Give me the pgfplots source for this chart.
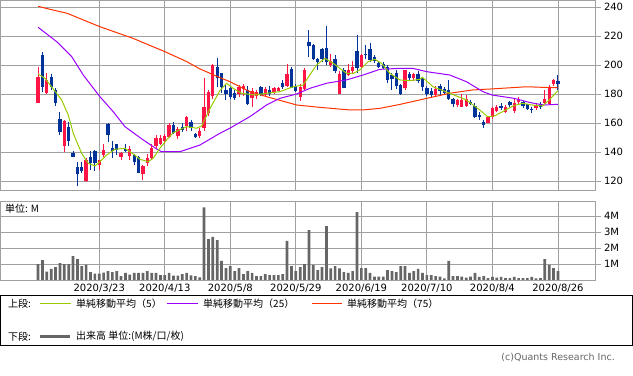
\documentclass[border=0pt]{standalone}
\usepackage{fontspec}
\setmainfont{DejaVu Sans}
\newfontfamily\jp{Noto Sans CJK JP}
\usepackage{pgfplots}
\usepackage{pgfplotstable}
\pgfplotsset{compat=1.18}
\definecolor{cred}{RGB}{255,20,70}
\definecolor{cblue}{RGB}{0,51,153}
\definecolor{maA}{RGB}{153,204,0}
\definecolor{maB}{RGB}{153,0,255}
\definecolor{maC}{RGB}{255,51,0}
\definecolor{gridc}{RGB}{160,160,160}
\definecolor{volc}{RGB}{102,102,102}

% up candles (close > open)
\pgfplotstableread{
i O H L C
0 174 199 174 192
2 181 194.5 180 190
6 144 162 140.5 161.6
11 120 136 119.7 134.7
14 131.2 135 128 134.7
15 138 145.5 137 141.6
19 136.6 140 134.7 139.3
21 137.3 144 135 142
24 124.7 131.5 121 130.6
25 132.5 139 130.5 136
26 136 146 135 143
27 144.5 152 142 150
28 146 152 145 150
29 148 152.5 146 151
30 150.5 160 150 158.8
32 151.5 157.7 149 156
34 158 165 155 164
37 151.2 157 150 155
38 156.6 191 155 171
39 167 183 165 181.5
40 178.5 201 177 200
46 180 186.5 178 185.2
47 183.5 187 178.5 186
49 177.2 184 171.5 182.3
50 179 183 177 181.5
52 179.5 185 178.5 183.5
54 181.8 185 180 184.1
55 182.5 185 182 184.2
57 186 200.7 185 194
60 178.3 187 175.5 185
61 183.5 198 183 197
67 200.2 208 199 203
69 180 196 180 194.2
71 193.5 201 192.5 196.5
72 196.3 203 195 198.8
74 199 208 198 207
84 184 197 183 196.5
86 191.5 194.5 189 194
91 179.5 186 178 183.5
96 172.5 177 171.5 176
97 171.5 180 171 176
98 172 179.5 171.5 176.8
103 160.5 164.5 160 164
104 164 171.5 163 170.5
105 168.3 172.5 167.5 171
107 168 172.5 167 171.3
109 168.5 177 167 174
110 174.5 178 173.5 177
114 170.3 173.5 169.5 172.5
116 173.8 183 173 176.5
117 173.5 186.5 173 185
118 187 190.5 186 189.8
}\upT

% down candles (close < open)
\pgfplotstableread{
i O H L C
1 207 209.4 181.8 185.2
3 192 194 183 185
4 183 184 172 174
5 163 168 152 154
7 157.5 161 144 148
8 139.3 141 136.5 137
9 130 133.5 117 125
10 130 133 126 127
12 137 141 128 132.5
13 141 141.5 127 132.5
16 159.5 160 147.3 152
17 142.8 147.8 136 141.1
18 145.7 146 138 141.3
20 142 146 140.5 141
22 138 139 131 133.5
23 137 137.5 125.5 126
31 158.8 161 152.5 153.5
33 157.5 160 154 155.5
35 161 162 155 157
36 152.4 153 150 150.3
41 199 205 185 191.2
42 194.7 195 181 185
43 183 186.4 176 180
44 184 186 176.5 178.3
45 181 183 176 177.7
48 183.2 186 172.5 173.2
51 185 186 179 179.5
53 183 185.7 179 180
56 187.5 190 183.5 185
58 197.6 198.5 184 184.6
59 185.5 187 181.5 182.4
62 216.3 224.5 206 213.4
63 214.3 215 203.5 204.5
64 204.5 205.2 197 202
65 211 212 202 204.5
66 211.7 227 200 202
68 204.5 207 194.5 196
70 196.5 198 184 184.5
73 210 221 195 198
75 208 214 204 207
76 211.5 215.5 202.5 203.8
77 205.5 207 201.5 203
78 201.4 203 198 198.5
79 201 202.5 197.5 198.3
80 199 200 188 189.6
81 193.5 194.5 183 190.5
82 194.5 197 183.5 186
83 186.5 187 179.5 180
85 194 195.5 189.5 191
87 194.2 196 188 189
88 191.2 192 182.5 185
89 184 185.5 179 180
90 182.5 184 178 179.5
92 186 187 179 182.5
93 183.5 185 180 181
94 183 190 176 176.7
95 176.8 177.5 171.5 173
99 175 176 172.5 173.5
100 172.2 174 163.5 164.3
101 165.5 167.5 162.5 164
102 161 162.3 156.5 159
106 172.2 174 169 170.8
108 174.5 175.5 171 172.3
111 174.5 175.5 170.5 172.2
112 173 173.5 169 170
113 170 171 167 169.5
115 173 175 170 171
119 189.3 193.3 183 187
}\downT

\pgfplotstableread{
x y
0 194
1.58 191
3.18 184.8
5.4 176.1
6.91 165.7
8.05 153.1
9.97 139.3
11.48 132.4
13.02 130.6
14.16 133.5
15.69 138.1
17.59 142.1
19.88 142.8
21.78 138.8
23.31 135.2
25.21 133.5
26.36 135.9
27.89 142.8
29.42 148.5
30.93 153.5
34 157.7
36.28 156.6
37.43 158.1
39.33 170
41.61 182.5
43.15 187.6
44.66 184.1
46.58 180.7
49.62 179.5
52.3 180.7
55.34 181.8
58.38 185.2
60.67 186.4
62.2 193.3
63.74 200.2
65.64 204.8
67.54 201.4
69.07 197.9
70.6 194.5
72.11 194.3
73.64 196.8
75.54 202.5
77.08 204.1
78.61 201.4
80.51 194.5
82.79 189.9
85.08 189.4
87.37 190.3
87.98 191.7
90.41 185.2
94.23 180.7
98.05 176.1
101.1 169.2
102.87 164.6
104.41 165
106.31 168
108.7 171.9
110.88 173.8
113.17 172.6
115.47 171.9
117.0 176.1
119 182.5
}\maFive

\pgfplotstableread{
x y
0 226.2
4.26 216.3
7.69 206
10.34 193.3
14.16 178.3
17.2 168
19.88 157.7
24.07 148.5
27.13 142.3
28.28 140.4
32.46 140.4
37.04 145
41.61 153.1
43.9 156.6
48.48 164.6
52.3 172.6
55.34 177.2
59.16 180.2
62.2 184.1
66.03 187.6
70.6 189.9
74.4 193.3
78.22 197.2
82.79 197.9
85.77 197.9
88.97 195.6
94.23 193.3
98.05 188.7
101.85 181.8
103.91 179.5
108.96 177.2
112.78 174.2
115.82 172.6
119 173.1
}\maTwentyFive

\pgfplotstableread{
x y
0 240.7
2.72 238.6
6.61 235.9
14.16 226.6
21.71 218.6
29.03 209.4
34.06 202.5
37.04 197.5
41.61 191.5
43.9 188.7
48.48 181.8
52.37 178.3
59.23 172.6
64.49 171.0
71.35 169.2
74.33 169.2
78.22 170.3
82.79 173
88.97 177.2
94.23 180.7
99.49 183
103.84 183.7
111.85 185.2
115.51 184.8
118.94 184.6
}\maSeventyFive

\pgfplotstableread{
i v
0 1.0
1 1.25
2 0.52
3 0.69
4 0.81
5 1.06
6 1.0
7 1.0
8 1.5
9 1.31
10 0.875
11 0.96
12 0.5
13 0.4
14 0.4
15 0.46
16 0.56
17 0.5
18 0.56
19 0.25
20 0.44
21 0.33
22 0.44
23 0.44
24 0.44
25 0.56
26 0.44
27 0.44
28 0.31
29 0.31
30 0.44
31 0.27
32 0.27
33 0.37
34 0.44
35 0.29
36 0.25
37 0.17
38 4.54
39 2.56
40 2.69
41 2.5
42 1.19
43 0.75
44 0.875
45 0.56
46 0.75
47 0.37
48 0.56
49 0.44
50 0.25
51 0.25
52 0.37
53 0.31
54 0.31
55 0.31
56 0.37
57 2.44
58 0.875
59 0.56
60 0.81
61 1.0
62 3.125
63 0.94
64 0.62
65 0.81
66 3.375
67 0.73
68 0.875
69 0.73
70 0.5
71 0.44
72 0.56
73 4.25
74 0.75
75 0.75
76 0.44
77 0.21
78 0.21
79 0.21
80 0.62
81 0.56
82 0.5
83 0.875
84 0.875
85 0.44
86 0.56
87 0.69
88 0.44
89 0.31
90 0.31
91 0.25
92 0.21
93 0.1
94 1.19
95 0.25
96 0.25
97 0.21
98 0.15
99 0.21
100 0.44
101 0.19
102 0.25
103 0.12
104 0.19
105 0.15
106 0.19
107 0.12
108 0.12
109 0.19
110 0.12
111 0.12
112 0.12
113 0.19
114 0.1
115 0.12
116 1.31
117 0.94
118 0.75
119 0.56
}\volT

\pgfplotsset{
  panel/.style={
    scale only axis, width=595.5bp,
    xmin=-8.72, xmax=127.6,
    xtick={14,29,44,59,74,89,104,119},
    xmajorgrids, ymajorgrids,
    grid style={draw=gridc, line width=0.8bp},
    axis line style={draw=gridc, line width=1bp},
    xtick style={draw=none},
    ytick style={draw=gridc, line width=0.8bp},
    ytick pos=right, yticklabel pos=right,
    tick align=outside, major tick length=5bp,
  },
  wick/.style={draw=none, forget plot,
    error bars/.cd, y dir=plus, y explicit, error mark=none,
    error bar style={draw=#1, line width=0.9bp}},
  body/.style={draw=none, forget plot,
    error bars/.cd, y dir=plus, y explicit, error mark=none,
    error bar style={draw=#1, line width=3.3bp}},
}

\begin{document}
\begin{tikzpicture}[font=\fontsize{10bp}{12bp}\selectfont]
\path[use as bounding box] (0,0) rectangle (633bp,-376bp);

\begin{axis}[panel, at={(0bp,0bp)}, anchor=north west, height=190bp,
  ymin=113.99, ymax=245.03,
  xticklabels={},
  ytick={120,140,160,180,200,220,240},
  yticklabels={120,140,160,180,200,220,240}]
\addplot[wick=cred] table[x=i, y=L, y error plus expr=\thisrow{H}-\thisrow{L}] \upT;
\addplot[body=cred] table[x=i, y=O, y error plus expr=\thisrow{C}-\thisrow{O}] \upT;
\addplot[wick=cblue] table[x=i, y=L, y error plus expr=\thisrow{H}-\thisrow{L}] \downT;
\addplot[body=cblue] table[x=i, y=C, y error plus expr=\thisrow{O}-\thisrow{C}] \downT;
\addplot[maC, line width=1bp, mark=none] table[x=x, y=y] \maSeventyFive;
\addplot[maB, line width=1bp, mark=none] table[x=x, y=y] \maTwentyFive;
\addplot[maA, line width=1bp, mark=none] table[x=x, y=y] \maFive;
\end{axis}

\begin{axis}[panel, at={(0bp,-201.7bp)}, anchor=north west, height=78.3bp,
  ymin=0, ymax=4.894,
  xticklabels={2020/3/23,2020/4/13,2020/5/8,2020/5/29,2020/6/19,2020/7/10,2020/8/4,2020/8/26},
  xticklabel style={yshift=4bp},
  ytick={1,2,3,4}, yticklabels={1M,2M,3M,4M}]
\addplot[ybar, bar width=2.7bp, fill=volc, draw=none] table[x=i, y=v] \volT;
\end{axis}

\node[anchor=west, inner sep=0] at (5bp,-209bp) {\jp 単位: M};

% legend
\draw[black, line width=1bp] (0.5bp,-295.3bp) rectangle (632bp,-345.7bp);
\node[anchor=west, inner sep=0] at (8bp,-303.5bp) {\jp 上段:};
\draw[maA, line width=1bp] (40bp,-303.3bp) -- (71bp,-303.3bp);
\node[anchor=west, inner sep=0] at (76bp,-303.5bp) {\jp 単純移動平均（5）};
\draw[maB, line width=1bp] (167bp,-303.3bp) -- (198bp,-303.3bp);
\node[anchor=west, inner sep=0] at (203bp,-303.5bp) {\jp 単純移動平均（25）};
\draw[maC, line width=1bp] (311.7bp,-303.3bp) -- (342.3bp,-303.3bp);
\node[anchor=west, inner sep=0] at (347bp,-303.5bp) {\jp 単純移動平均（75）};
\node[anchor=west, inner sep=0] at (8bp,-336.5bp) {\jp 下段:};
\draw[volc, line width=3bp] (40bp,-336.3bp) -- (70bp,-336.3bp);
\node[anchor=west, inner sep=0] at (76bp,-336.5bp) {\jp 出来高 単位:(M株/口/枚)};

\node[anchor=east, inner sep=0, text=black!60, font=\fontsize{9.5bp}{11bp}\selectfont] at (615bp,-357.5bp) {(c)Quants Research Inc.};
\end{tikzpicture}
\end{document}
